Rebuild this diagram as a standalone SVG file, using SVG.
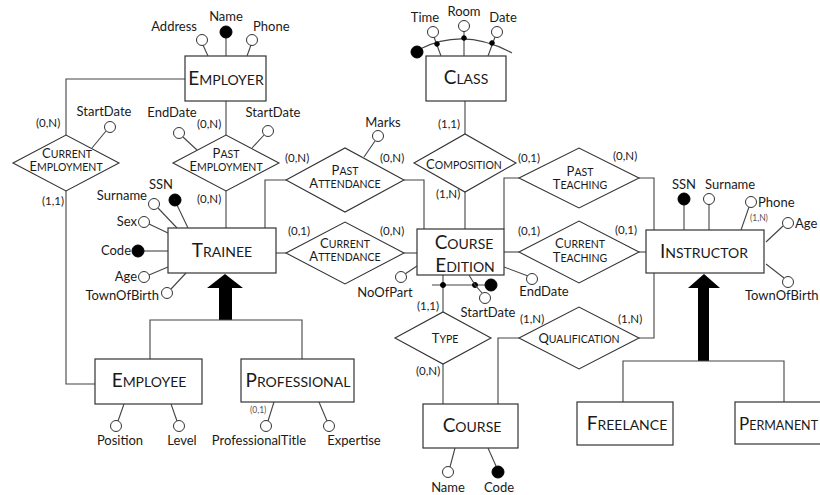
<svg xmlns="http://www.w3.org/2000/svg" width="820" height="495" viewBox="0 0 820 495">
<style>
.box{fill:#fff;stroke:#333;stroke-width:1.2}
.rel{fill:#fff;stroke:#333;stroke-width:1.1}
.ln{stroke:#444;stroke-width:1.1;fill:none}
.att{fill:#fff;stroke:#333;stroke-width:1}
.key{fill:#000;stroke:#000;stroke-width:1}
text{font-family:Lato,"Open Sans","Liberation Sans",sans-serif;fill:#1a1a1a}
.a{font-size:13px}
.c{font-size:11.5px}
.s{font-size:8.5px;fill:#555}
.en{font-size:14px;text-anchor:middle}
.eb{font-size:19px}
.rl{font-size:10.5px;text-anchor:middle}
.rb{font-size:13px}
.isa{fill:#000}
</style>
<rect width="820" height="495" fill="#fff"/>

<g id="connectors">
  <polyline class="ln" points="185,79 66,79 66,135"/>
  <polyline class="ln" points="66,191 66,384 95,384"/>
  <line class="ln" x1="226" y1="101" x2="226" y2="135"/>
  <line class="ln" x1="226" y1="191" x2="226" y2="228"/>
  <polyline class="ln" points="286,180 265,180 265,228"/>
  <polyline class="ln" points="404,180 424,180 424,229"/>
  <line class="ln" x1="276" y1="253" x2="286" y2="253"/>
  <line class="ln" x1="404" y1="253" x2="417" y2="253"/>
  <line class="ln" x1="465" y1="101" x2="465" y2="134"/>
  <line class="ln" x1="465" y1="192" x2="465" y2="229"/>
  <polyline class="ln" points="519,178 504,178 504,229"/>
  <polyline class="ln" points="639,178 654,178 654,230"/>
  <line class="ln" x1="504" y1="252" x2="519" y2="252"/>
  <line class="ln" x1="639" y1="252" x2="646" y2="252"/>
  <line class="ln" x1="443" y1="275" x2="443" y2="312"/>
  <line class="ln" x1="443" y1="364" x2="443" y2="404"/>
  <polyline class="ln" points="519,338 498,338 498,404"/>
  <polyline class="ln" points="639,338 654,338 654,273"/>
  <!-- ISA Trainee -->
  <polygon class="isa" points="225,274 243,288 232,288 232,320 219,320 219,288 207,288"/>
  <polyline class="ln" points="150,359 150,320 302,320 302,359"/>
  <!-- ISA Instructor -->
  <polygon class="isa" points="704,274 720,288 709,288 709,361 698,361 698,288 688,288"/>
  <polyline class="ln" points="623,402 623,361 784,361 784,402"/>
  <!-- cardinalities -->
  <text class="c" x="36" y="127">(0,N)</text>
  <text class="c" x="42" y="205">(1,1)</text>
  <text class="c" x="197" y="128">(0,N)</text>
  <text class="c" x="197" y="203">(0,N)</text>
  <text class="c" x="285" y="162">(0,N)</text>
  <text class="c" x="380" y="162">(0,N)</text>
  <text class="c" x="288" y="235">(0,1)</text>
  <text class="c" x="380" y="235">(0,N)</text>
  <text class="c" x="438" y="128">(1,1)</text>
  <text class="c" x="436" y="198">(1,N)</text>
  <text class="c" x="518" y="162">(0,1)</text>
  <text class="c" x="613" y="160">(0,N)</text>
  <text class="c" x="518" y="235">(0,1)</text>
  <text class="c" x="615" y="234">(0,1)</text>
  <text class="c" x="417" y="310">(1,1)</text>
  <text class="c" x="416" y="375">(0,N)</text>
  <text class="c" x="520" y="323">(1,N)</text>
  <text class="c" x="618" y="323">(1,N)</text>
</g>

<g id="employer">
  <rect class="box" x="185" y="56" width="81" height="45"/>
  <text class="en" x="226" y="85"><tspan class="eb">E</tspan>MPLOYER</text>
  <line class="ln" x1="208" y1="56" x2="203" y2="45"/>
  <circle class="att" cx="202" cy="40" r="5.5"/>
  <text class="a" x="197" y="31" text-anchor="end">Address</text>
  <line class="ln" x1="226" y1="56" x2="226" y2="38"/>
  <circle class="key" cx="226" cy="32" r="6"/>
  <text class="a" x="226" y="21" text-anchor="middle">Name</text>
  <line class="ln" x1="247" y1="56" x2="251" y2="45"/>
  <circle class="att" cx="252" cy="40" r="5.5"/>
  <text class="a" x="253" y="31">Phone</text>
</g>

<g id="class">
  <rect class="box" x="426" y="56" width="80" height="45"/>
  <text class="en" x="466" y="84"><tspan class="eb">C</tspan>LASS</text>
  <path class="ln" d="M420 49 Q464 27 512 53"/>
  <circle class="key" cx="417" cy="52" r="6"/>
  <line class="ln" x1="434" y1="37" x2="441" y2="56"/>
  <circle class="att" cx="433" cy="32" r="5.5"/>
  <circle class="key" cx="437" cy="44" r="2.3"/>
  <text class="a" x="425" y="22" text-anchor="middle">Time</text>
  <line class="ln" x1="464" y1="31" x2="464" y2="56"/>
  <circle class="att" cx="464" cy="26" r="5.5"/>
  <circle class="key" cx="464" cy="38" r="2.3"/>
  <text class="a" x="464" y="16" text-anchor="middle">Room</text>
  <line class="ln" x1="495" y1="37" x2="488" y2="56"/>
  <circle class="att" cx="497" cy="32" r="5.5"/>
  <circle class="key" cx="492" cy="43" r="2.3"/>
  <text class="a" x="503" y="22" text-anchor="middle">Date</text>
</g>

<g id="current_employment">
  <polygon class="rel" points="13,163 66,135 119,163 66,191"/>
  <text class="rl" x="67" y="158"><tspan class="rb">C</tspan>URRENT</text>
  <text class="rl" x="66" y="171"><tspan class="rb">E</tspan>MPLOYMENT</text>
  <line class="ln" x1="92" y1="148" x2="106" y2="131"/>
  <circle class="att" cx="110" cy="127" r="5.5"/>
  <text class="a" x="104" y="116" text-anchor="middle">StartDate</text>
</g>

<g id="past_employment">
  <polygon class="rel" points="173,163 226,135 279,163 226,191"/>
  <text class="rl" x="226" y="158"><tspan class="rb">P</tspan>AST</text>
  <text class="rl" x="226" y="171"><tspan class="rb">E</tspan>MPLOYMENT</text>
  <line class="ln" x1="197" y1="150" x2="183" y2="137"/>
  <circle class="att" cx="179" cy="133" r="5.5"/>
  <text class="a" x="172" y="117" text-anchor="middle">EndDate</text>
  <line class="ln" x1="252" y1="148" x2="264" y2="135"/>
  <circle class="att" cx="268" cy="131" r="5.5"/>
  <text class="a" x="273" y="117" text-anchor="middle">StartDate</text>
</g>

<g id="trainee">
  <rect class="box" x="168" y="228" width="108" height="45"/>
  <text class="en" x="222" y="257"><tspan class="eb">T</tspan>RAINEE</text>
  <line class="ln" x1="188" y1="228" x2="177" y2="205"/>
  <circle class="key" cx="175" cy="200" r="6"/>
  <text class="a" x="161" y="189" text-anchor="middle">SSN</text>
  <line class="ln" x1="177" y1="228" x2="158" y2="208"/>
  <circle class="att" cx="154" cy="204" r="5.5"/>
  <text class="a" x="147" y="200" text-anchor="end">Surname</text>
  <line class="ln" x1="168" y1="233" x2="149" y2="224"/>
  <circle class="att" cx="144" cy="222" r="5.5"/>
  <text class="a" x="137" y="226" text-anchor="end">Sex</text>
  <line class="ln" x1="168" y1="251" x2="144" y2="251"/>
  <circle class="key" cx="138" cy="251" r="6"/>
  <text class="a" x="131" y="255" text-anchor="end">Code</text>
  <line class="ln" x1="168" y1="267" x2="149" y2="275"/>
  <circle class="att" cx="144" cy="277" r="5.5"/>
  <text class="a" x="137" y="281" text-anchor="end">Age</text>
  <line class="ln" x1="186" y1="273" x2="171" y2="289"/>
  <circle class="att" cx="167" cy="293" r="5.5"/>
  <text class="a" x="159" y="300" text-anchor="end">TownOfBirth</text>
</g>

<g id="employee">
  <rect class="box" x="95" y="359" width="107" height="45"/>
  <text class="en" x="149" y="387"><tspan class="eb">E</tspan>MPLOYEE</text>
  <line class="ln" x1="124" y1="404" x2="118" y2="421"/>
  <circle class="att" cx="116" cy="426" r="5.5"/>
  <text class="a" x="120" y="445" text-anchor="middle">Position</text>
  <line class="ln" x1="171" y1="404" x2="177" y2="421"/>
  <circle class="att" cx="179" cy="426" r="5.5"/>
  <text class="a" x="182" y="445" text-anchor="middle">Level</text>
</g>

<g id="professional">
  <rect class="box" x="241" y="359" width="113" height="43"/>
  <text class="en" x="298" y="387"><tspan class="eb">P</tspan>ROFESSIONAL</text>
  <line class="ln" x1="274" y1="402" x2="268" y2="421"/>
  <circle class="att" cx="266" cy="426" r="5.5"/>
  <text class="s" x="250" y="413">(0,1)</text>
  <text class="a" x="259" y="445" text-anchor="middle">ProfessionalTitle</text>
  <line class="ln" x1="319" y1="402" x2="327" y2="421"/>
  <circle class="att" cx="329" cy="426" r="5.5"/>
  <text class="a" x="354" y="445" text-anchor="middle">Expertise</text>
</g>

<g id="past_attendance">
  <polygon class="rel" points="286,180 345,148 404,180 345,212"/>
  <text class="rl" x="345" y="175"><tspan class="rb">P</tspan>AST</text>
  <text class="rl" x="345" y="188"><tspan class="rb">A</tspan>TTENDANCE</text>
  <line class="ln" x1="364" y1="157" x2="375" y2="141"/>
  <circle class="att" cx="378" cy="136" r="5.5"/>
  <text class="a" x="383" y="127" text-anchor="middle">Marks</text>
</g>

<g id="current_attendance">
  <polygon class="rel" points="286,253 345,222 404,253 345,284"/>
  <text class="rl" x="345" y="248"><tspan class="rb">C</tspan>URRENT</text>
  <text class="rl" x="345" y="261"><tspan class="rb">A</tspan>TTENDANCE</text>
</g>

<g id="composition">
  <polygon class="rel" points="414,163 465,134 516,163 465,192"/>
  <text class="rl" x="464" y="169"><tspan class="rb">C</tspan>OMPOSITION</text>
</g>

<g id="course_edition">
  <rect class="box" x="417" y="229" width="87" height="46"/>
  <text class="en" x="464" y="249"><tspan class="eb">C</tspan>OURSE</text>
  <text class="en" x="465" y="272"><tspan class="eb">E</tspan>DITION</text>
  <line class="ln" x1="417" y1="266" x2="405" y2="274"/>
  <circle class="att" cx="401" cy="277" r="5.5"/>
  <text class="a" x="385" y="297" text-anchor="middle">NoOfPart</text>
  <line class="ln" x1="432" y1="285" x2="486" y2="285"/>
  <circle class="key" cx="443" cy="285" r="2.5"/>
  <circle class="key" cx="475" cy="285" r="2.5"/>
  <circle class="key" cx="491" cy="285" r="6"/>
  <polyline class="ln" points="469,275 475,285 482,293"/>
  <circle class="att" cx="485" cy="298" r="5.5"/>
  <text class="a" x="488" y="317" text-anchor="middle">StartDate</text>
  <line class="ln" x1="504" y1="267" x2="528" y2="276"/>
  <circle class="att" cx="532" cy="279" r="5.5"/>
  <text class="a" x="544" y="296" text-anchor="middle">EndDate</text>
</g>

<g id="past_teaching">
  <polygon class="rel" points="519,178 579,148 639,178 579,208"/>
  <text class="rl" x="580" y="176"><tspan class="rb">P</tspan>AST</text>
  <text class="rl" x="580" y="189"><tspan class="rb">T</tspan>EACHING</text>
</g>

<g id="current_teaching">
  <polygon class="rel" points="519,252 579,221 639,252 579,283"/>
  <text class="rl" x="580" y="248"><tspan class="rb">C</tspan>URRENT</text>
  <text class="rl" x="580" y="262"><tspan class="rb">T</tspan>EACHING</text>
</g>

<g id="instructor">
  <rect class="box" x="646" y="230" width="118" height="43"/>
  <text class="en" x="704" y="258"><tspan class="eb">I</tspan>NSTRUCTOR</text>
  <line class="ln" x1="684" y1="230" x2="684" y2="205"/>
  <circle class="key" cx="684" cy="199" r="6"/>
  <text class="a" x="684" y="189" text-anchor="middle">SSN</text>
  <line class="ln" x1="709" y1="230" x2="709" y2="205"/>
  <circle class="att" cx="709" cy="199" r="5.5"/>
  <text class="a" x="705" y="189">Surname</text>
  <line class="ln" x1="741" y1="230" x2="749" y2="207"/>
  <circle class="att" cx="751" cy="202" r="5.5"/>
  <text class="a" x="758" y="207">Phone</text>
  <text class="s" x="750" y="221">(1,N)</text>
  <line class="ln" x1="766" y1="242" x2="783" y2="226"/>
  <circle class="att" cx="788" cy="223" r="5.5"/>
  <text class="a" x="795" y="228">Age</text>
  <line class="ln" x1="766" y1="264" x2="784" y2="278"/>
  <circle class="att" cx="788" cy="282" r="5.5"/>
  <text class="a" x="745" y="300">TownOfBirth</text>
</g>

<g id="type">
  <polygon class="rel" points="395,338 443,312 491,338 443,364"/>
  <text class="rl" x="445" y="343"><tspan class="rb">T</tspan>YPE</text>
</g>

<g id="qualification">
  <polygon class="rel" points="519,338 579,307 639,338 579,369"/>
  <text class="rl" x="579" y="343"><tspan class="rb">Q</tspan>UALIFICATION</text>
</g>

<g id="course">
  <rect class="box" x="423" y="404" width="95" height="44"/>
  <text class="en" x="472" y="432"><tspan class="eb">C</tspan>OURSE</text>
  <line class="ln" x1="455" y1="448" x2="450" y2="467"/>
  <circle class="att" cx="448" cy="472" r="5.5"/>
  <text class="a" x="448" y="492" text-anchor="middle">Name</text>
  <line class="ln" x1="488" y1="448" x2="496" y2="466"/>
  <circle class="key" cx="498" cy="472" r="6"/>
  <text class="a" x="499" y="492" text-anchor="middle">Code</text>
</g>

<g id="freelance">
  <rect class="box" x="577" y="402" width="96" height="43"/>
  <text class="en" x="627" y="430"><tspan class="eb">F</tspan>REELANCE</text>
</g>

<g id="permanent">
  <rect class="box" x="735" y="402" width="100" height="42"/>
  <text x="739" y="430" style="font-size:12.5px"><tspan style="font-size:17px">P</tspan>ERMANENT</text>
</g>
</svg>
